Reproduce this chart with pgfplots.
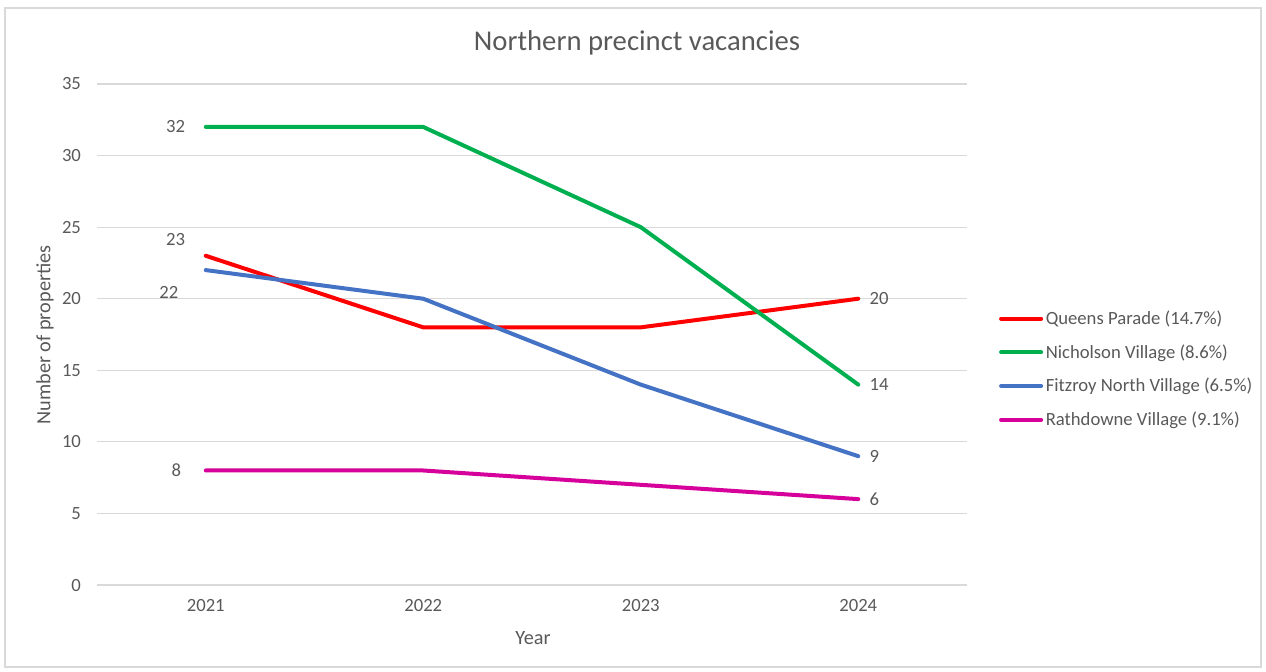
\documentclass[border=0pt]{standalone}
\usepackage{fontspec}
\setmainfont{Carlito}
\usepackage{pgfplots}
\pgfplotsset{compat=1.18}
\definecolor{qp}{HTML}{FF0000}
\definecolor{nv}{HTML}{00B050}
\definecolor{fn}{HTML}{4472C4}
\definecolor{rv}{HTML}{D6009A}
\definecolor{txt}{HTML}{595959}
\definecolor{gridc}{HTML}{D9D9D9}
\definecolor{framec}{HTML}{D9D9D9}
\begin{document}
\begin{tikzpicture}
\begin{scope}[x=0.75pt,y=-0.75pt]
\useasboundingbox (0,0) rectangle (1266,671);
\draw[framec, line width=1.2pt] (5,8) rectangle (1261,667);
\node[font=\fontsize{21.5}{25}\selectfont, text=txt] at (637,43) {Northern precinct vacancies};
\node[font=\fontsize{15.2}{18}\selectfont, text=txt, rotate=90] at (45,335) {Number of properties};
\node[font=\fontsize{15.2}{18}\selectfont, text=txt] at (533,638) {Year};
\end{scope}
\begin{axis}[
    at={(72.75pt,-438.75pt)}, anchor=south west,
    scale only axis, width=652.5pt, height=375.75pt,
    xmin=2020.5, xmax=2024.5, ymin=0, ymax=35,
    xtick={2021,2022,2023,2024},
    xticklabels={2021,2022,2023,2024},
    ytick={0,5,...,35},
    axis line style={draw=none},
    major tick length=0pt,
    ymajorgrids, grid style={gridc, line width=0.9pt},
    tick label style={font=\fontsize{14}{16}\selectfont, text=txt},
    /pgf/number format/assume math mode=true,
    yticklabel style={xshift=-8.5pt},
    xticklabel style={yshift=-7pt},
    legend style={at={(1.032,0.431)}, anchor=west, draw=none, fill=none,
                  font=\fontsize{14}{16}\selectfont, text=txt,
                  row sep=9.5pt, cells={anchor=west}},
    legend image code/.code={\draw[#1, line width=3pt, line cap=round] (0pt,0pt) -- (30pt,0pt);},
    every axis plot/.append style={line width=3pt, line cap=round, line join=round},
    clip=false,
]
\addplot[qp] coordinates {(2021,23) (2022,18) (2023,18) (2024,20)};
\addlegendentry{Queens Parade (14.7\%)}
\addplot[nv] coordinates {(2021,32) (2022,32) (2023,25) (2024,14)};
\addlegendentry{Nicholson Village (8.6\%)}
\addplot[fn] coordinates {(2021,22) (2022,20) (2023,14) (2024,9)};
\addlegendentry{Fitzroy North Village (6.5\%)}
\addplot[rv] coordinates {(2021,8) (2022,8) (2023,7) (2024,6)};
\addlegendentry{Rathdowne Village (9.1\%)}
\tikzset{lbl/.style={font=\fontsize{14}{16}\selectfont, text=txt}}
\node[lbl, anchor=east, xshift=-12pt] at (axis cs:2021,32) {32};
\node[lbl, anchor=east, xshift=-12pt, yshift=12.5pt] at (axis cs:2021,23) {23};
\node[lbl, anchor=east, xshift=-17pt, yshift=-17pt] at (axis cs:2021,22) {22};
\node[lbl, anchor=east, xshift=-15pt] at (axis cs:2021,8) {8};
\node[lbl, anchor=west, xshift=5pt] at (axis cs:2024,20) {20};
\node[lbl, anchor=west, xshift=5pt] at (axis cs:2024,14) {14};
\node[lbl, anchor=west, xshift=5pt] at (axis cs:2024,9) {9};
\node[lbl, anchor=west, xshift=5pt] at (axis cs:2024,6) {6};
\end{axis}
\end{tikzpicture}
\end{document}
